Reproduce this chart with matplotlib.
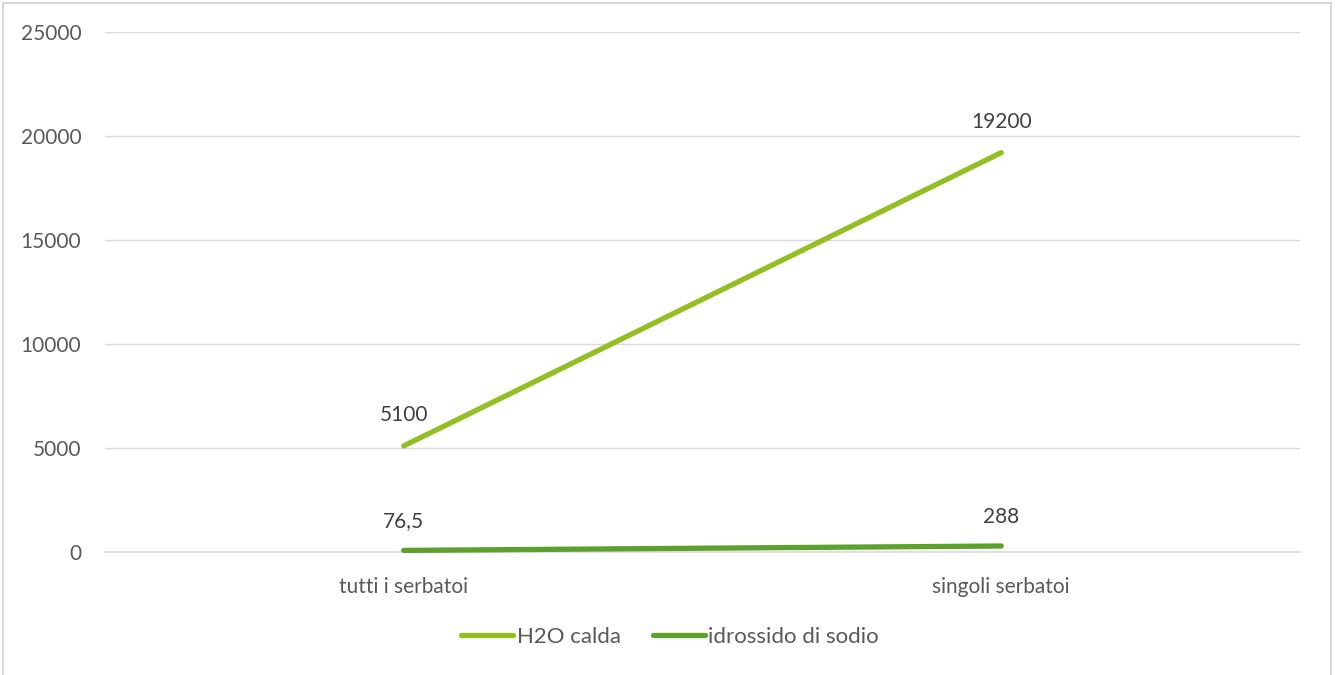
import matplotlib
matplotlib.use("Agg")
import matplotlib.pyplot as plt
from matplotlib.patches import Rectangle

categories = ["tutti i serbatoi", "singoli serbatoi"]
h2o_calda = [5100, 19200]
idrossido = [76.5, 288]
h2o_labels = ["5100", "19200"]
idr_labels = ["76,5", "288"]
yticks = [0, 5000, 10000, 15000, 20000, 25000]

plt.rcParams['font.family'] = ['Lato', 'DejaVu Sans']

fig = plt.figure(figsize=(13.35, 6.75), dpi=100)
fig.patches.append(Rectangle((0.002, -0.01), 0.995, 1.005, transform=fig.transFigure,
                             fill=False, edgecolor='#D9D9D9', linewidth=1.5))
ax = fig.add_axes([105/1335, 1-552/675, (1300-105)/1335, (552-32)/675])

x = list(range(len(categories)))
c1 = '#92C022'
c2 = '#5BA12B'
ax.plot(x, h2o_calda, color=c1, linewidth=3.8, solid_capstyle='round', label='H2O calda', zorder=3, clip_on=False)
ax.plot(x, idrossido, color=c2, linewidth=3.8, solid_capstyle='round', label='idrossido di sodio', zorder=3, clip_on=False)

for xi, v, t in zip(x, h2o_calda, h2o_labels):
    ax.annotate(t, (xi, v), xytext=(0, 22), textcoords='offset points', ha='center', va='center',
                fontsize=15, color='#404040')
for xi, v, t in zip(x, idrossido, idr_labels):
    ax.annotate(t, (xi, v), xytext=(0, 21), textcoords='offset points', ha='center', va='center',
                fontsize=15, color='#404040')

ax.set_xlim(-0.5, 1.5)
ax.set_ylim(0, 25000)
ax.set_yticks(yticks)
ax.set_yticklabels([str(t) for t in yticks])
ax.set_xticks(x)
ax.set_xticklabels(categories)
ax.tick_params(axis='both', length=0, labelsize=15, labelcolor='#595959')
ax.tick_params(axis='y', pad=17)
ax.tick_params(axis='x', pad=18)
ax.grid(axis='y', color='#D9D9D9', linewidth=1)
ax.axhline(0, color='#D9D9D9', linewidth=1.2, clip_on=False, zorder=1)
ax.set_axisbelow(True)
for s in ax.spines.values():
    s.set_visible(False)

leg = fig.legend(loc='center', bbox_to_anchor=(670/1335, 1-637/675), ncol=2, frameon=False,
                 fontsize=16, handlelength=2.35, handletextpad=0.15, columnspacing=1.45)
for t in leg.get_texts():
    t.set_color('#595959')

fig.savefig('out.png', dpi=100)
